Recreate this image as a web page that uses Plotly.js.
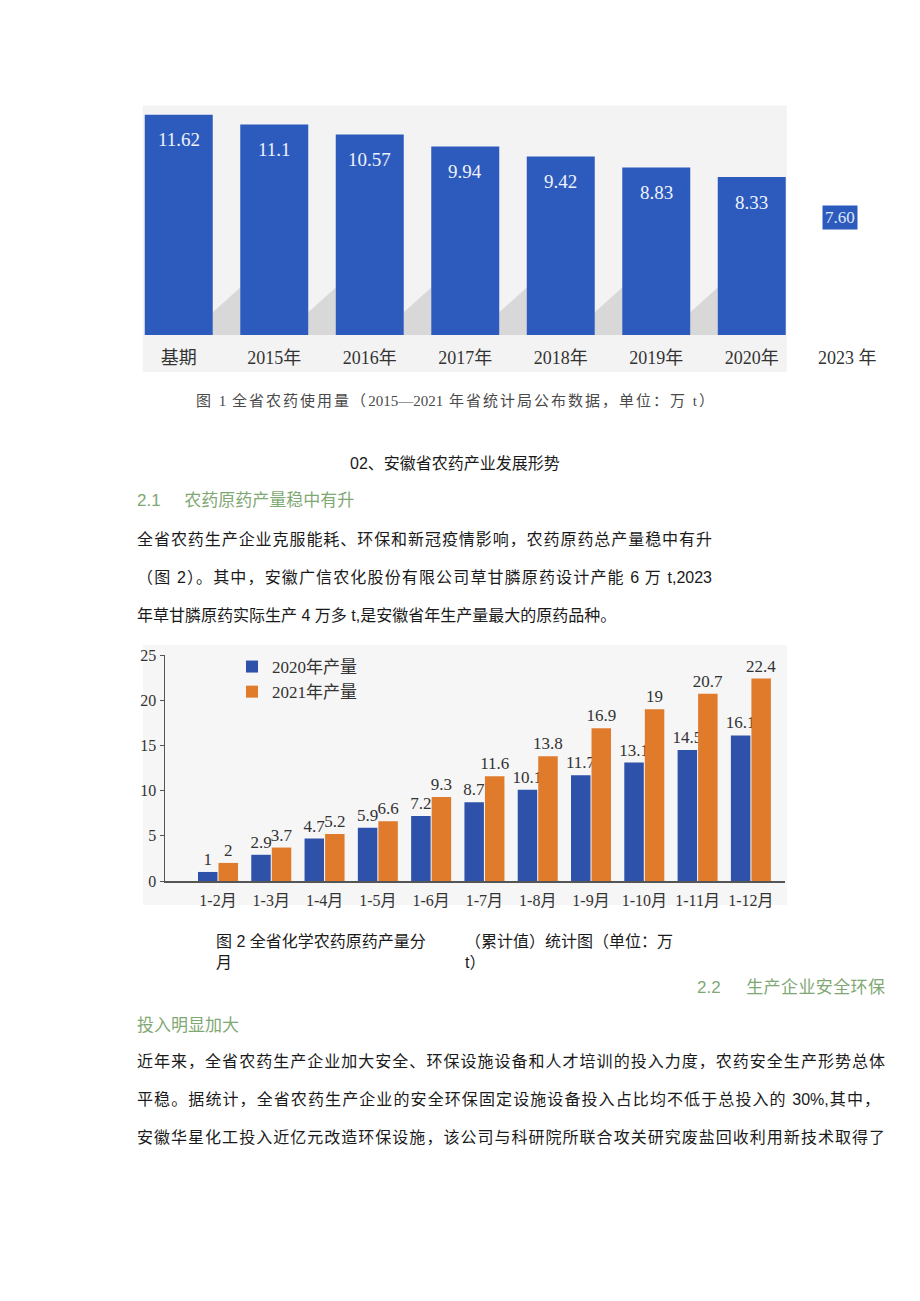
<!DOCTYPE html>
<html><head><meta charset="utf-8">
<script src="https://cdn.plot.ly/plotly-3.0.1.min.js"></script>
<style>
body{margin:0;background:#fff;}
#page{position:relative;width:920px;height:1301px;overflow:hidden;font-family:"Liberation Sans","Noto Sans CJK SC",sans-serif;color:#1a1a1a;background:#fff;}
.t{position:absolute;white-space:nowrap;font-size:16px;line-height:20px;}
.j{text-align:justify;text-align-last:justify;}
.g{color:#7fa874;font-size:17px;}
#c1{position:absolute;left:0;top:90px;width:920px;height:300px;}
#c2{position:absolute;left:0;top:630px;width:920px;height:290px;}
</style></head>
<body><div id="page">
<div id="c1"></div>
<div class="t j" style="left:196px;top:391px;width:518px;color:#4a4a4a;font-size:15px;font-family:'Liberation Serif','Noto Sans CJK SC',serif;">图 1 全省农药使用量（2015—2021 年省统计局公布数据，单位：万 t）</div>
<div class="t" style="left:350px;top:454px;">02、安徽省农药产业发展形势</div>
<div class="t g" style="left:137px;top:491px;">2.1&nbsp;&nbsp;&nbsp;&nbsp;&nbsp;农药原药产量稳中有升</div>
<div class="t j" style="left:137px;top:530px;width:575px;">全省农药生产企业克服能耗、环保和新冠疫情影响，农药原药总产量稳中有升</div>
<div class="t j" style="left:137px;top:568px;width:575px;">（图 2）。其中，安徽广信农化股份有限公司草甘膦原药设计产能 6 万 t,2023</div>
<div class="t" style="left:137px;top:606px;">年草甘膦原药实际生产 4 万多 t,是安徽省年生产量最大的原药品种。</div>
<div id="c2"></div>
<div class="t" style="left:216px;top:932px;">图 2 全省化学农药原药产量分</div>
<div class="t" style="left:216px;top:953px;">月</div>
<div class="t" style="left:465px;top:932px;">（累计值）统计图（单位：万</div>
<div class="t" style="left:465px;top:953px;">t）</div>
<div class="t g j" style="left:697px;top:978px;width:188px;">2.2&nbsp;&nbsp;&nbsp;&nbsp;&nbsp;生产企业安全环保</div>
<div class="t g" style="left:137px;top:1016px;">投入明显加大</div>
<div class="t j" style="left:137px;top:1052px;width:748px;">近年来，全省农药生产企业加大安全、环保设施设备和人才培训的投入力度，农药安全生产形势总体</div>
<div class="t j" style="left:137px;top:1090px;width:743px;">平稳。据统计，全省农药生产企业的安全环保固定设施设备投入占比均不低于总投入的 30%,其中，</div>
<div class="t j" style="left:137px;top:1128px;width:748px;">安徽华星化工投入近亿元改造环保设施，该公司与科研院所联合攻关研究废盐回收利用新技术取得了</div>
</div>
<script>
// ---- Figure 1 data ----
const years = ['基期','2015年','2016年','2017年','2018年','2019年','2020年','2023 年'];
const usage = [11.62, 11.1, 10.57, 9.94, 9.42, 8.83, 8.33, 7.60];

// ---- Figure 2 data ----
const months = ['1-2月','1-3月','1-4月','1-5月','1-6月','1-7月','1-8月','1-9月','1-10月','1-11月','1-12月'];
const prod2020 = [1, 2.9, 4.7, 5.9, 7.2, 8.7, 10.1, 11.7, 13.1, 14.5, 16.1];
const prod2021 = [2, 3.7, 5.2, 6.6, 9.3, 11.6, 13.8, 16.9, 19, 20.7, 22.4];
const seriesNames = ['2020年产量','2021年产量'];

const SERIF = '"Liberation Serif","Noto Sans CJK SC",serif';
const BLUE1 = '#2d5bbd';
const last = usage.length - 1;

// Figure 1
const labels1 = usage.map((v,i)=> i===last ? v.toFixed(2) : String(v));
const ann1 = usage.map((v,i)=>({
  x: years[i], y: v, xref:'x', yref:'y', text: labels1[i], showarrow:false,
  yanchor:'middle', yshift: i===last ? -27 : -25, xshift: i===last ? -7 : 0,
  font:{family:SERIF, size: i===last ? 17 : 19, color: i===last ? '#dfe8f7' : '#eef2fa'},
  bgcolor: i===last ? BLUE1 : 'rgba(0,0,0,0)', borderpad: i===last ? 2 : 0
}));
const L1=131.25, PW1=764, B1=335, PH1=237.5;
const px1 = x => (x-L1)/PW1, py1 = y => (B1-y)/PH1;
const HALF = (1-0.288)/2;
// decorative floor shadows between the visible bars (from the photographed original)
const shadows = [];
for (let i = 0; i < last - 1; i++) {
  const xr = i + HALF, xl = i + 1 - HALF;
  shadows.push({type:'path', xref:'x', yref:'y', layer:'below',
    path:`M${xr},0 L${xl},0 L${xl},2.5 L${xr},1.2 Z`,
    fillcolor:'#b9b9b9', opacity:0.45, line:{width:0}});
}
Plotly.newPlot('c1', [{
  type:'bar', x: years, y: usage,
  marker:{color: usage.map((v,i)=> i===last ? 'rgba(0,0,0,0)' : BLUE1)},
  hoverinfo:'skip'
}], {
  width:920, height:300,
  margin:{l:L1, r:920-L1-PW1, t:7.5, b:55},
  paper_bgcolor:'rgba(0,0,0,0)', plot_bgcolor:'rgba(0,0,0,0)',
  showlegend:false, bargap:0.288,
  xaxis:{type:'category', range:[-0.5,7.5], showline:false, showgrid:false, zeroline:false, ticks:'',
    tickfont:{family:SERIF, size:18, color:'#333'}, ticklabelstandoff:10, fixedrange:true},
  yaxis:{range:[0,12.5], visible:false, fixedrange:true},
  shapes:[{type:'rect', xref:'paper', yref:'paper', x0:px1(143), x1:px1(787), y0:py1(372), y1:py1(105),
    fillcolor:'#f3f3f3', line:{width:0}, layer:'below'}].concat(shadows),
  annotations: ann1
}, {displayModeBar:false, staticPlot:true});

// Figure 2
const L2=165, PW2=620, B2=881, PH2=226;
const px2 = x => (x-L2)/PW2;
Plotly.newPlot('c2', [
  {type:'bar', name:seriesNames[0], x:months, y:prod2020, marker:{color:'#2e51aa'},
   text:prod2020.map(String), textposition:'outside', cliponaxis:false, constraintext:'none',
   textfont:{family:SERIF, size:17, color:'#333'}, hoverinfo:'skip'},
  {type:'bar', name:seriesNames[1], x:months, y:prod2021, marker:{color:'#e07b2c'},
   text:prod2021.map(String), textposition:'outside', cliponaxis:false, constraintext:'none',
   textfont:{family:SERIF, size:17, color:'#333'}, hoverinfo:'skip'}
], {
  width:920, height:290,
  margin:{l:L2, r:920-L2-PW2, t:25, b:39},
  paper_bgcolor:'rgba(0,0,0,0)', plot_bgcolor:'rgba(0,0,0,0)',
  barmode:'group', bargap:0.23, bargroupgap:0.05,
  xaxis:{type:'category', range:[-0.994,10.64], showline:true, linecolor:'#555', linewidth:1.5,
    showgrid:false, zeroline:false, ticks:'', tickfont:{family:SERIF, size:16, color:'#333'},
    ticklabelstandoff:4, fixedrange:true},
  yaxis:{range:[0,25], dtick:5, showline:true, linecolor:'#555', linewidth:1.5, ticks:'outside',
    ticklen:4, tickcolor:'#555', showgrid:false, zeroline:false,
    tickfont:{family:SERIF, size:16, color:'#333'}, fixedrange:true},
  showlegend:true,
  legend:{x:px2(232), y:(B2-649)/PH2, xanchor:'left', yanchor:'top', bgcolor:'rgba(0,0,0,0)',
    font:{family:SERIF, size:17, color:'#333'}, tracegroupgap:0},
  shapes:[{type:'rect', xref:'paper', yref:'paper', x0:px2(143), x1:px2(787), y0:(B2-905)/PH2, y1:(B2-645)/PH2,
    fillcolor:'#f6f6f6', line:{width:0}, layer:'below'}]
}, {displayModeBar:false, staticPlot:true});
</script>
</body></html>
